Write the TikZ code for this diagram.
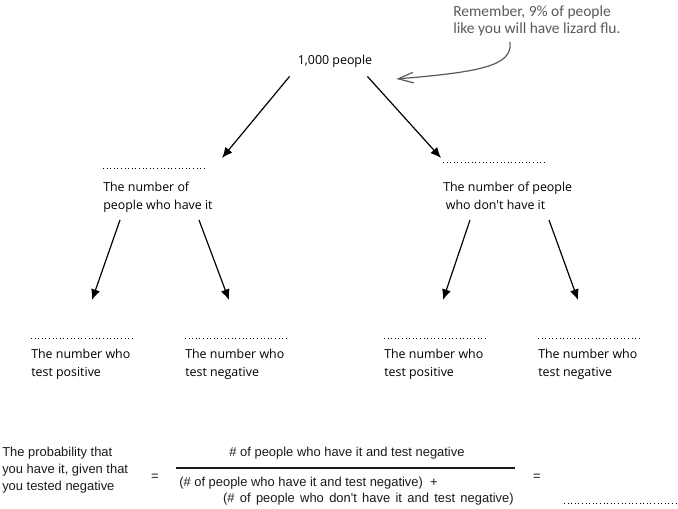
\documentclass[tikz,border=0pt]{standalone}
\usepackage{fontspec}
\usepackage{tikz}
\usetikzlibrary{arrows.meta,positioning,calc}
\newfontfamily\treefont{Open Sans}
\newfontfamily\formfont{Liberation Sans}
\newfontfamily\handfont{Carlito}
\definecolor{hgray}{HTML}{5A5A5A}
\definecolor{ink}{HTML}{1A1A1A}
\tikzset{
  lbl/.style    = {anchor=north west, inner sep=0pt, align=left,
                   font=\treefont\fontsize{9.3}{13}\selectfont},
  blank/.style  = {dotted, line width=0.7pt},
  branch/.style = {-{Latex[length=2.8mm,width=2.4mm]}, line width=0.9pt},
  note/.style   = {hgray, inner sep=0pt, align=left,
                   font=\handfont\fontsize{11.6}{12.75}\selectfont},
  pointer/.style= {hgray, line width=0.9pt, -{Straight Barb[length=4mm,width=2.8mm]}},
  form/.style   = {ink, inner sep=0pt, font=\formfont\fontsize{9.7}{12.75}\selectfont},
}

\begin{document}
\begin{tikzpicture}[x=0.75pt,y=-0.75pt]
\useasboundingbox (0,0) rectangle (678,509);
% root
\node[inner sep=0pt,font=\treefont\fontsize{9.3}{13}\selectfont] (top) at (335,61) {1,000 people};
\node[note,anchor=north west] (remind) at (453,5) {Remember, 9\% of people\\like you will have lizard flu.};
\coordinate (tail) at (510,42);
\draw[pointer] (tail) .. controls (513,66) and (480,72) .. ([shift={(24,18)}]top.east);
% first split
\node[lbl] (have) at (103,182) {The number of\\people who have it};
\node[lbl] (nothave) at (443,182) {The number of people\\\hspace{2pt}who don't have it};
\draw[blank] ([shift={(0,-14)}]have.north west) -- ++(104,0);
\draw[blank] ([shift={(0,-20)}]nothave.north west) -- ++(102,0);
\draw[branch] ([shift={(-8,9)}]top.south west) -- ([shift={(119,-24)}]have.north west);
\draw[branch] ([shift={(-5,9)}]top.south east) -- ([shift={(-2,-24)}]nothave.north west);
% second split
\node[lbl] (havepos) at (31,349) {The number who\\test positive};
\node[lbl] (haveneg) at (185,349) {The number who\\test negative};
\node[lbl] (notpos) at (384,349) {The number who\\test positive};
\node[lbl] (notneg) at (538,349) {The number who\\test negative};
\foreach \n/\w in {havepos/102,haveneg/104,notpos/103,notneg/104}
  \draw[blank] ([shift={(0,-11)}]\n.north west) -- ++(\w,0);
\draw[branch] ([shift={(17,38)}]have.north west) -- ([shift={(61,-49)}]havepos.north west);
\draw[branch] ([shift={(96,38)}]have.north west) -- ([shift={(44,-49)}]haveneg.north west);
\draw[branch] ([shift={(27,38)}]nothave.north west) -- ([shift={(59,-49)}]notpos.north west);
\draw[branch] ([shift={(106,38)}]nothave.north west) -- ([shift={(40,-49)}]notneg.north west);
% probability
\node[form,anchor=north west,align=left] (prob) at (2,447) {The probability that\\you have it, given that\\you tested negative};
\node[form] (eqa) at (155,477) {=};
\node[form] (num) at (347,453) {\# of people who have it and test negative};
\node[form,anchor=west] (dena) at (179,483) {(\# of people who have it and test negative)\ \ +};
\node[form,anchor=east] (denb) at (514,499) {\spaceskip=4pt plus 1pt(\# of people who don't have it and test negative)};
\draw[ink,line width=0.8pt] (176,468) -- (515,468);
\node[form] (eqb) at (537,477) {=};
\draw[blank] (564,503) -- (678,503);
\end{tikzpicture}
\end{document}
